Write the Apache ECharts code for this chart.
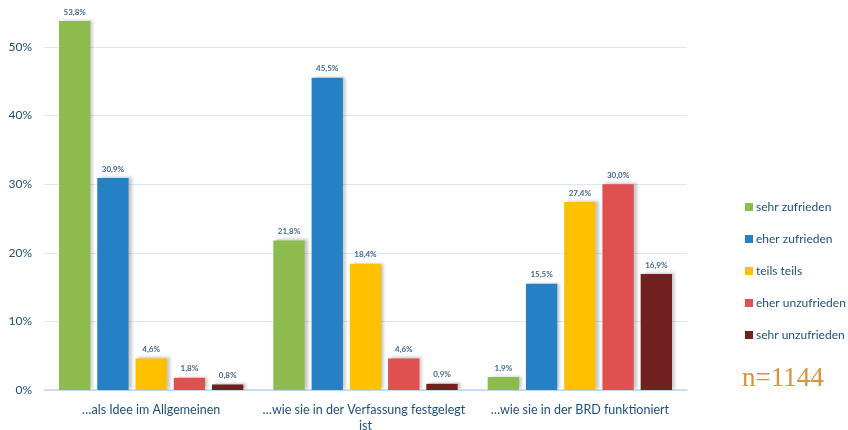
<!DOCTYPE html>
<html>
<head>
<meta charset="utf-8">
<script src="https://cdn.jsdelivr.net/npm/echarts@6/dist/echarts.min.js"></script>
<style>
  html, body { margin: 0; padding: 0; background: #fff; }
  #chart { width: 848px; height: 430px; }
</style>
</head>
<body>
<div id="chart"></div>
<script>
// Zufriedenheit mit der Demokratie (n=1144)
const categories = [
  '…als Idee im Allgemeinen',
  '…wie sie in der Verfassung festgelegt ist',
  '…wie sie in der BRD funktioniert'
];
const seriesNames = ['sehr zufrieden', 'eher zufrieden', 'teils teils', 'eher unzufrieden', 'sehr unzufrieden'];
const sehrZufrieden   = [53.8, 21.8, 1.9];
const eherZufrieden   = [30.9, 45.5, 15.5];
const teilsTeils      = [4.6, 18.4, 27.4];
const eherUnzufrieden = [1.8, 4.6, 30.0];
const sehrUnzufrieden = [0.8, 0.9, 16.9];
const yMin = 0;
const yMax = 56.85;   // top of the plot area, just above the tallest bar
const yStep = 10;

const values = [sehrZufrieden, eherZufrieden, teilsTeils, eherUnzufrieden, sehrUnzufrieden];
const colors = ['#8DBB4E', '#2581C4', '#FFC000', '#E05050', '#712020'];
const textBlue = '#1F4E79';

const fmt = v => v.toFixed(1).replace('.', ',') + '%';

const chart = echarts.init(document.getElementById('chart'));
chart.setOption({
  animation: false,
  color: colors,
  textStyle: { fontFamily: 'Lato, "Liberation Sans", sans-serif' },
  grid: { left: 44, right: 161, top: 0, bottom: 40, outerBoundsMode: 'none', containLabel: false },
  legend: {
    orient: 'vertical',
    left: 740,
    top: 196,
    itemWidth: 8,
    itemHeight: 8,
    itemGap: 20,
    icon: 'rect',
    textStyle: { color: textBlue, fontSize: 12, padding: [0, 0, 0, -2] },
    data: seriesNames
  },
  xAxis: {
    type: 'category',
    data: categories,
    axisLine: { lineStyle: { color: '#BDD7EE', width: 1.5 } },
    axisTick: { show: false },
    axisLabel: {
      color: textBlue,
      fontSize: 12.5,
      margin: 12,
      width: 214,
      overflow: 'break',
      lineHeight: 16,
      interval: 0
    }
  },
  yAxis: {
    type: 'value',
    min: yMin,
    max: yMax,
    interval: yStep,
    axisLine: { show: false },
    axisTick: { show: false },
    splitLine: { showMaxLine: false, lineStyle: { color: '#DCE8F4', width: 1 } },
    axisLabel: {
      color: textBlue,
      fontSize: 12,
      margin: 12,
      showMaxLabel: false,
      formatter: v => (v % yStep === 0 ? v + '%' : '')
    }
  },
  series: seriesNames.map((name, i) => ({
    name,
    type: 'bar',
    data: values[i],
    barGap: '22%',
    barCategoryGap: '14%',
    itemStyle: {
      color: colors[i],
      shadowColor: 'rgba(0,0,0,0.22)',
      shadowBlur: 3,
      shadowOffsetX: 3,
      shadowOffsetY: -1
    },
    label: {
      show: true,
      position: 'top',
      distance: 5,
      color: '#44678F',
      fontSize: 8,
      fontWeight: 'bold',
      formatter: p => fmt(p.value)
    }
  })),
  graphic: [{
    type: 'text',
    left: 742,
    top: 365,
    style: {
      text: 'n=1144',
      fill: '#DE9035',
      font: '27px "Liberation Serif", serif'
    }
  }]
});
</script>
</body>
</html>
